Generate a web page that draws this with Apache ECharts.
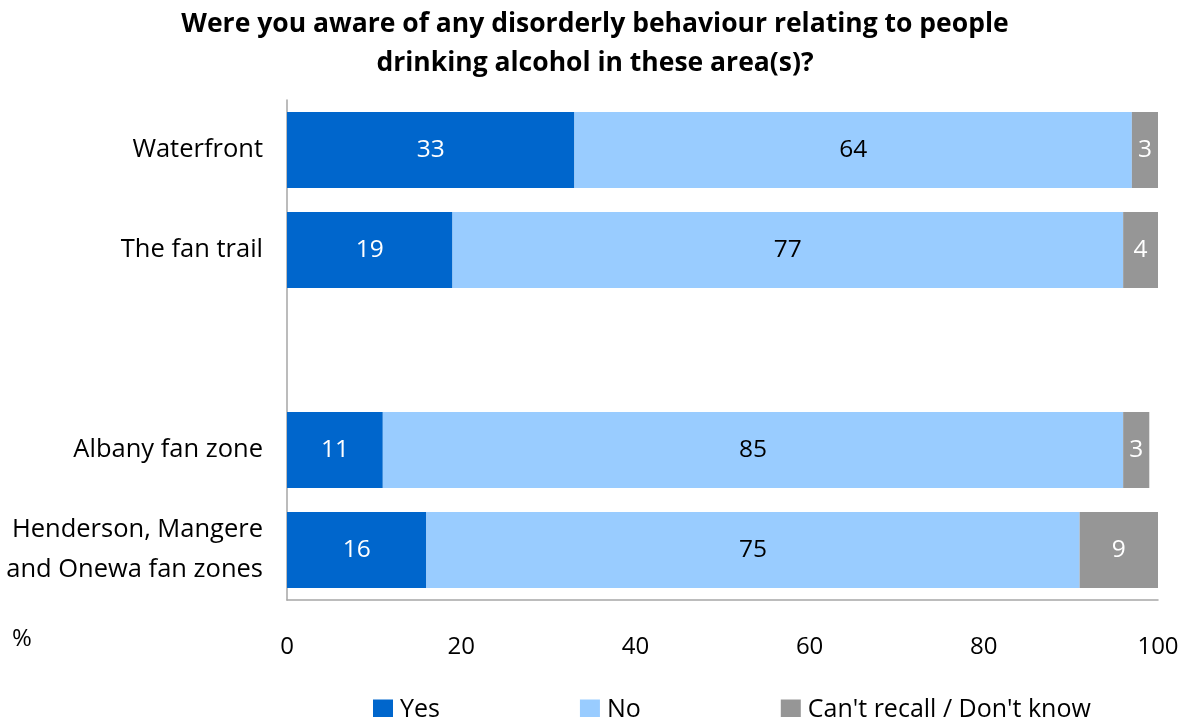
<!DOCTYPE html>
<html>
<head>
<meta charset="utf-8">
<script src="https://cdn.jsdelivr.net/npm/echarts@6/dist/echarts.min.js"></script>
<style>
  html, body { margin: 0; padding: 0; background: #fff; }
  #chart { width: 1187px; height: 717px; }
</style>
</head>
<body>
<div id="chart"></div>
<script>
// Areas, top to bottom (the blank entry leaves a gap between the two groups)
const categories = ['Waterfront', 'The fan trail', '', 'Albany fan zone', 'Henderson, Mangere\nand Onewa fan zones'];
const yesValues = [33, 19, null, 11, 16];
const noValues = [64, 77, null, 85, 75];
const dontKnowValues = [3, 4, null, 3, 9];
const xTicks = [0, 20, 40, 60, 80, 100];

const FONT = '"Open Sans", Lato, sans-serif';
const TEXT_SIZE = 25;

function makeSeries(name, data, color, labelColor) {
  return {
    name: name,
    type: 'bar',
    stack: 'total',
    data: data,
    barWidth: '76%',
    itemStyle: { color: color },
    label: {
      show: true,
      position: 'inside',
      color: labelColor,
      fontFamily: FONT,
      fontSize: 24.5,
      formatter: p => (p.value == null ? '' : String(p.value))
    },
    emphasis: { disabled: true }
  };
}

const chart = echarts.init(document.getElementById('chart'), null, { renderer: 'canvas' });
chart.setOption({
  animation: false,
  title: {
    text: 'Were you aware of any disorderly behaviour relating to people\ndrinking alcohol in these area(s)?',
    left: 590,
    textAlign: 'center',
    top: 0,
    textStyle: {
      fontFamily: FONT,
      fontWeight: 'bold',
      fontSize: 26.5,
      lineHeight: 39,
      color: '#000'
    }
  },
  graphic: [{
    type: 'text',
    left: 12,
    top: 627,
    style: { text: '%', fontFamily: FONT, fontSize: 24, fill: '#000' }
  }],
  legend: {
    left: 368,
    top: 692,
    itemWidth: 20,
    itemHeight: 20,
    itemGap: 140,
    icon: 'rect',
    textStyle: { fontFamily: FONT, fontSize: TEXT_SIZE, color: '#000', padding: [0, 0, 0, 2] },
    data: ['Yes', 'No', "Can't recall / Don't know"]
  },
  grid: { left: 287, right: 29, top: 100, bottom: 117, containLabel: false },
  xAxis: {
    type: 'value',
    min: xTicks[0],
    max: xTicks[xTicks.length - 1],
    interval: 20,
    axisLine: { show: true, lineStyle: { color: '#a6a6a6', width: 1.5 } },
    axisTick: { show: false },
    splitLine: { show: false },
    axisLabel: {
      margin: 35,
      fontFamily: FONT,
      fontSize: 24,
      color: '#000'
    }
  },
  yAxis: {
    type: 'category',
    inverse: true,
    data: categories,
    axisLine: { show: true, lineStyle: { color: '#a6a6a6', width: 1.5 } },
    axisTick: { show: false },
    axisLabel: {
      margin: 24,
      fontFamily: FONT,
      fontSize: 25.5,
      lineHeight: 40,
      padding: [10, 0, 0, 0],
      color: '#000',
      align: 'right'
    }
  },
  series: [
    makeSeries('Yes', yesValues, '#0066cc', '#ffffff'),
    makeSeries('No', noValues, '#99ccff', '#000000'),
    makeSeries("Can't recall / Don't know", dontKnowValues, '#969696', '#ffffff')
  ]
});
</script>
</body>
</html>
